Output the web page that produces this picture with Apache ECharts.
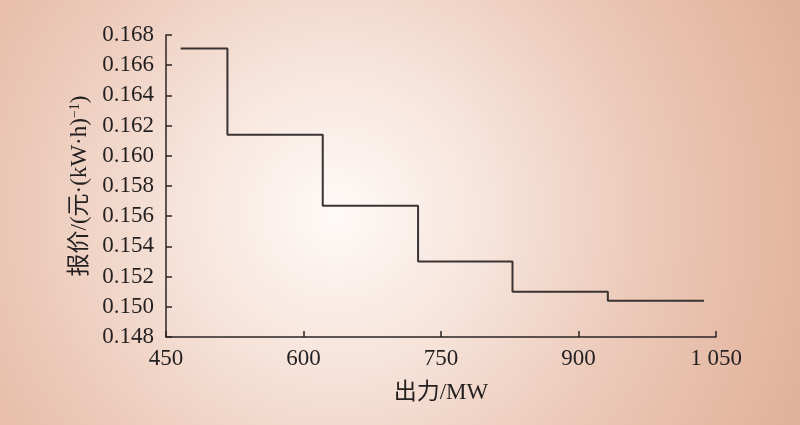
<!DOCTYPE html>
<html>
<head>
<meta charset="utf-8">
<script src="https://cdn.jsdelivr.net/npm/echarts@6/dist/echarts.min.js"></script>
<style>html,body{margin:0;padding:0;}#c{width:800px;height:425px;}</style>
</head>
<body>
<div id="c"></div>
<script>
// Step breakpoints (MW) and offer price levels (yuan/(kW·h))
var outputMW = [466, 517, 621, 725, 828, 932, 1037];
var priceLevels = [0.1671, 0.1614, 0.1567, 0.1530, 0.1510, 0.1504, 0.1504];
var xTicks = [450, 600, 750, 900, 1050];
var yTicks = [0.148, 0.150, 0.152, 0.154, 0.156, 0.158, 0.160, 0.162, 0.164, 0.166, 0.168];

var data = outputMW.map(function (x, i) { return [x, priceLevels[i]]; });
var font = '"Liberation Serif", "Noto Sans CJK SC", serif';
var chart = echarts.init(document.getElementById('c'));
chart.setOption({
  animation: false,
  backgroundColor: {
    type: 'radial', x: 0.42, y: 0.5, r: 1.15,
    colorStops: [
      {offset: 0, color: '#fefaf8'},
      {offset: 0.3, color: '#f7e5dc'},
      {offset: 0.65, color: '#ebc8b7'},
      {offset: 1, color: '#e2b39c'}
    ]
  },
  grid: {left: 166, right: 84, top: 35, bottom: 88, containLabel: false},
  xAxis: {
    type: 'value', min: xTicks[0], max: xTicks[xTicks.length - 1], interval: 150,
    axisLine: {show: true, lineStyle: {color: '#2b2424', width: 1.5}},
    axisTick: {show: true, inside: true, length: 6, lineStyle: {color: '#2b2424', width: 1.5}},
    splitLine: {show: false},
    axisLabel: {
      color: '#231f20', fontFamily: font, fontSize: 23, margin: 10,
      formatter: function (v) { return v >= 1000 ? String(v).replace(/^(\d)(\d{3})$/, '$1 $2') : String(v); }
    },
    name: '出力/MW', nameLocation: 'middle', nameGap: 44,
    nameTextStyle: {color: '#231f20', fontFamily: font, fontSize: 23}
  },
  yAxis: {
    type: 'value', min: yTicks[0], max: yTicks[yTicks.length - 1], interval: 0.002,
    axisLine: {show: true, lineStyle: {color: '#2b2424', width: 1.5}},
    axisTick: {show: true, inside: true, length: 6, lineStyle: {color: '#2b2424', width: 1.5}},
    splitLine: {show: false},
    axisLabel: {
      color: '#231f20', fontFamily: font, fontSize: 23, margin: 12,
      formatter: function (v) { return v.toFixed(3); }
    },
    name: '{a|报价/(元·(kW·h)}{s|−1}{a|)}',
    nameLocation: 'middle', nameGap: 74, nameRotate: 90,
    nameTextStyle: {
      rich: {
        a: {color: '#231f20', fontFamily: font, fontSize: 23},
        s: {color: '#231f20', fontFamily: font, fontSize: 14, verticalAlign: 'top', padding: [0, 0, 10, 0]}
      }
    }
  },
  series: [{
    type: 'line', step: 'end', data: data, symbol: 'none',
    lineStyle: {color: '#3a3333', width: 2}
  }]
});
</script>
</body>
</html>
